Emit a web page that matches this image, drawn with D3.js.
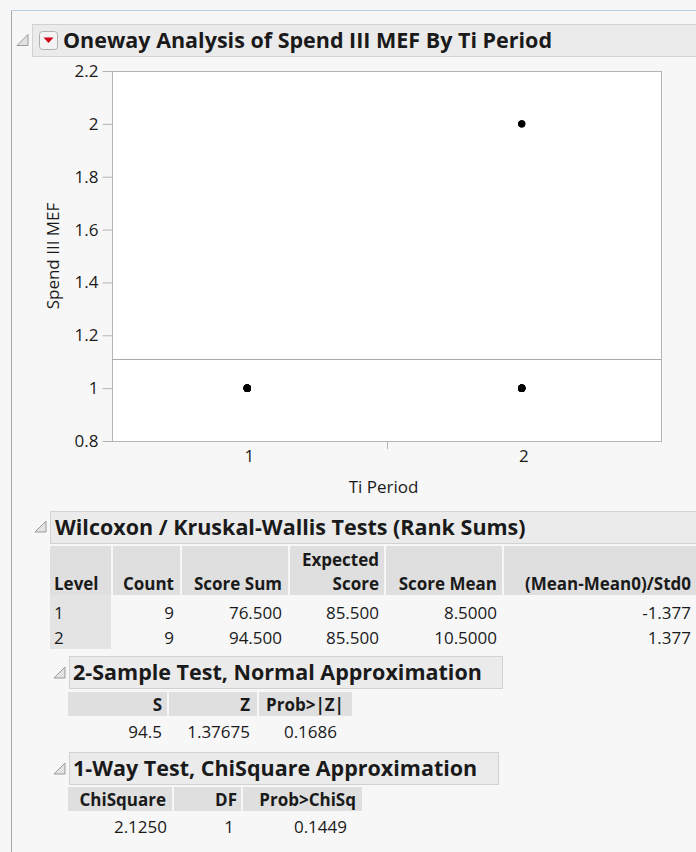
<!DOCTYPE html>
<html>
<head>
<meta charset="utf-8">
<script src="https://cdn.jsdelivr.net/npm/d3@7"></script>
<style>
  html, body { margin: 0; padding: 0; background: #f7f7f7; }
  svg { display: block; }
  text { font-family: "Open Sans", "Noto Sans", sans-serif; fill: #1a1a1a; }
</style>
</head>
<body>
<svg id="report" width="696" height="852"></svg>
<script>
// Observations of Spend III MEF for each Ti Period level
const levels = ["1", "2"];
const spendLevel1 = [1, 1, 1, 1, 1, 1, 1, 1, 1];
const spendLevel2 = [1, 1, 1, 1, 1, 1, 1, 2, 2];
const yTicks = [0.8, 1, 1.2, 1.4, 1.6, 1.8, 2, 2.2];

// Wilcoxon / Kruskal-Wallis rank sums
const wilcoxonHeaders = ["Level", "Count", "Score Sum", "Expected|Score", "Score Mean", "(Mean-Mean0)/Std0"];
const wilcoxonLevel = ["1", "2"];
const wilcoxonCount = ["9", "9"];
const wilcoxonScoreSum = ["76.500", "94.500"];
const wilcoxonExpected = ["85.500", "85.500"];
const wilcoxonScoreMean = ["8.5000", "10.5000"];
const wilcoxonStd = ["-1.377", "1.377"];

// 2-Sample test, normal approximation
const normalHeaders = ["S", "Z", "Prob>|Z|"];
const normalValues = ["94.5", "1.37675", "0.1686"];

// 1-Way test, ChiSquare approximation
const chiHeaders = ["ChiSquare", "DF", "Prob>ChiSq"];
const chiValues = ["2.1250", "1", "0.1449"];

const svg = d3.select("#report");
const bodySize = 17;
const titleSize = 21.5;

// outer frame of the report window
svg.append("line").attr("x1", 11.5).attr("x2", 11.5).attr("y1", 10).attr("y2", 852)
  .attr("stroke", "#a9a9a9");
svg.append("line").attr("x1", 11).attr("x2", 696).attr("y1", 10.5).attr("y2", 10.5)
  .attr("stroke", "#b9cde3");

function disclosure(x, y) {
  svg.append("polygon")
    .attr("points", `${x + 11},${y} ${x + 11},${y + 11} ${x},${y + 11}`)
    .attr("fill", "#e2e2e2").attr("stroke", "#9a9a9a").attr("stroke-width", 1);
}

function outlineBar(x, y, w, h, label, tx) {
  svg.append("rect").attr("x", x + 0.5).attr("y", y + 0.5).attr("width", w).attr("height", h)
    .attr("fill", "#ebebeb").attr("stroke", "#d2d2d2");
  svg.append("text").attr("x", tx).attr("y", y + h - 8)
    .attr("font-weight", "bold").attr("font-size", titleSize).attr("fill", "#000")
    .text(label);
}

// ---- Oneway header ----
disclosure(17, 34.5);
outlineBar(32, 24, 670, 32, "Oneway Analysis of Spend III MEF By Ti Period", 63);
svg.append("rect").attr("x", 39.5).attr("y", 31.5).attr("width", 18).attr("height", 18).attr("rx", 3)
  .attr("fill", "#f4f4f4").attr("stroke", "#b0b0b0");
svg.append("polygon").attr("points", "43.5,37.5 53.5,37.5 48.5,43")
  .attr("fill", "#d0021b");

// ---- Oneway plot ----
const plot = { left: 112, right: 661, top: 71, bottom: 441 };
const x = d3.scaleBand().domain(levels).range([plot.left, plot.right]);
const y = d3.scaleLinear().domain([0.8, 2.2]).range([plot.bottom, plot.top]);

svg.append("rect").attr("x", plot.left + 0.5).attr("y", plot.top + 0.5)
  .attr("width", plot.right - plot.left).attr("height", plot.bottom - plot.top)
  .attr("fill", "#ffffff").attr("stroke", "#b5b5b5");

const yAxis = svg.append("g").attr("transform", `translate(${plot.left + 0.5},0)`)
  .call(d3.axisLeft(y).tickValues(yTicks).tickSize(10).tickPadding(4).tickFormat(d3.format("~g")));
yAxis.select(".domain").remove();
yAxis.selectAll(".tick line").attr("stroke", "#b5b5b5");
yAxis.selectAll(".tick text").attr("font-size", bodySize).attr("fill", "#222")
  .attr("font-family", '"Open Sans", sans-serif');

const xAxis = svg.append("g").attr("transform", `translate(0,${plot.bottom + 0.5})`)
  .call(d3.axisBottom(x).tickSize(0).tickPadding(8));
xAxis.select(".domain").remove();
xAxis.selectAll(".tick text").attr("font-size", bodySize).attr("fill", "#222")
  .attr("font-family", '"Open Sans", sans-serif');
// boundary tick between the two levels
svg.append("line")
  .attr("x1", Math.round(x("2")) + 0.5).attr("x2", Math.round(x("2")) + 0.5)
  .attr("y1", plot.bottom).attr("y2", plot.bottom + 8).attr("stroke", "#b5b5b5");

svg.append("text").attr("x", (plot.left + plot.right) / 2 - 3).attr("y", 493)
  .attr("text-anchor", "middle").attr("font-size", bodySize).attr("fill", "#222").text("Ti Period");
svg.append("text").attr("transform", `translate(59,${(plot.top + plot.bottom) / 2}) rotate(-90)`)
  .attr("text-anchor", "middle").attr("font-size", bodySize).attr("fill", "#222").text("Spend III MEF");

// grand mean line
const allValues = spendLevel1.concat(spendLevel2);
const grandMean = d3.mean(allValues);
svg.append("line").attr("x1", plot.left).attr("x2", plot.right)
  .attr("y1", Math.round(y(grandMean)) + 0.5).attr("y2", Math.round(y(grandMean)) + 0.5)
  .attr("stroke", "#a8a8a8");

// points
const points = [
  ...spendLevel1.map(v => ({ level: "1", value: v })),
  ...spendLevel2.map(v => ({ level: "2", value: v }))
];
svg.append("g").selectAll("circle").data(points).join("circle")
  .attr("cx", d => x(d.level) + x.bandwidth() / 2 - 2)
  .attr("cy", d => y(d.value))
  .attr("r", 3.6).attr("fill", "#000");

// ---- Wilcoxon table ----
disclosure(35, 521);
outlineBar(50, 511, 660, 32, "Wilcoxon / Kruskal-Wallis Tests (Rank Sums)", 55);

function headerCells(cols, top, height) {
  cols.forEach(c => {
    svg.append("rect").attr("x", c.x0).attr("y", top).attr("width", c.x1 - c.x0).attr("height", height)
      .attr("fill", "#dfdfdf");
  });
}

const wCols = [
  { x0: 50, x1: 111, anchor: "start", tx: 54 },
  { x0: 113, x1: 180, anchor: "end", tx: 174 },
  { x0: 182, x1: 288, anchor: "end", tx: 282 },
  { x0: 290, x1: 384, anchor: "end", tx: 379 },
  { x0: 386, x1: 502, anchor: "end", tx: 497 },
  { x0: 504, x1: 696, anchor: "end", tx: 691 }
];
headerCells(wCols, 546, 49);
// level column shading
svg.append("rect").attr("x", 50).attr("y", 595).attr("width", 61).attr("height", 54).attr("fill", "#e4e4e4");

wilcoxonHeaders.forEach((h, i) => {
  const lines = h.split("|");
  lines.forEach((ln, j) => {
    svg.append("text").attr("x", wCols[i].tx).attr("y", 590 - (lines.length - 1 - j) * 24)
      .attr("text-anchor", wCols[i].anchor).attr("font-weight", "bold").attr("font-size", bodySize)
      .attr("fill", "#111").text(ln);
  });
});
const wRows = [wilcoxonLevel, wilcoxonCount, wilcoxonScoreSum, wilcoxonExpected, wilcoxonScoreMean, wilcoxonStd];
[0, 1].forEach(r => {
  wRows.forEach((col, i) => {
    svg.append("text").attr("x", wCols[i].tx).attr("y", 619 + r * 25)
      .attr("text-anchor", wCols[i].anchor).attr("font-size", bodySize).attr("fill", "#333")
      .text(col[r]);
  });
});

// ---- 2-Sample test ----
disclosure(54, 667);
outlineBar(69, 656, 433, 32, "2-Sample Test, Normal Approximation", 73);
const nCols = [
  { x0: 68, x1: 167, tx: 162, vx: 162 },
  { x0: 169, x1: 257, tx: 250, vx: 250 },
  { x0: 259, x1: 352, tx: 344, vx: 337 }
];
headerCells(nCols, 692, 24);
normalHeaders.forEach((h, i) => {
  svg.append("text").attr("x", nCols[i].tx).attr("y", 711).attr("text-anchor", "end")
    .attr("font-weight", "bold").attr("font-size", bodySize).attr("fill", "#111").text(h);
  svg.append("text").attr("x", nCols[i].vx).attr("y", 738).attr("text-anchor", "end")
    .attr("font-size", bodySize).attr("fill", "#333").text(normalValues[i]);
});

// ---- 1-Way test ----
disclosure(54, 763);
outlineBar(69, 752, 429, 32, "1-Way Test, ChiSquare Approximation", 73);
const cCols = [
  { x0: 68, x1: 172, tx: 166, vx: 167 },
  { x0: 174, x1: 241, tx: 237, vx: 234 },
  { x0: 243, x1: 362, tx: 356, vx: 347 }
];
headerCells(cCols, 787, 24);
chiHeaders.forEach((h, i) => {
  svg.append("text").attr("x", cCols[i].tx).attr("y", 806).attr("text-anchor", "end")
    .attr("font-weight", "bold").attr("font-size", bodySize).attr("fill", "#111").text(h);
  svg.append("text").attr("x", cCols[i].vx).attr("y", 833).attr("text-anchor", "end")
    .attr("font-size", bodySize).attr("fill", "#333").text(chiValues[i]);
});
</script>
</body>
</html>
